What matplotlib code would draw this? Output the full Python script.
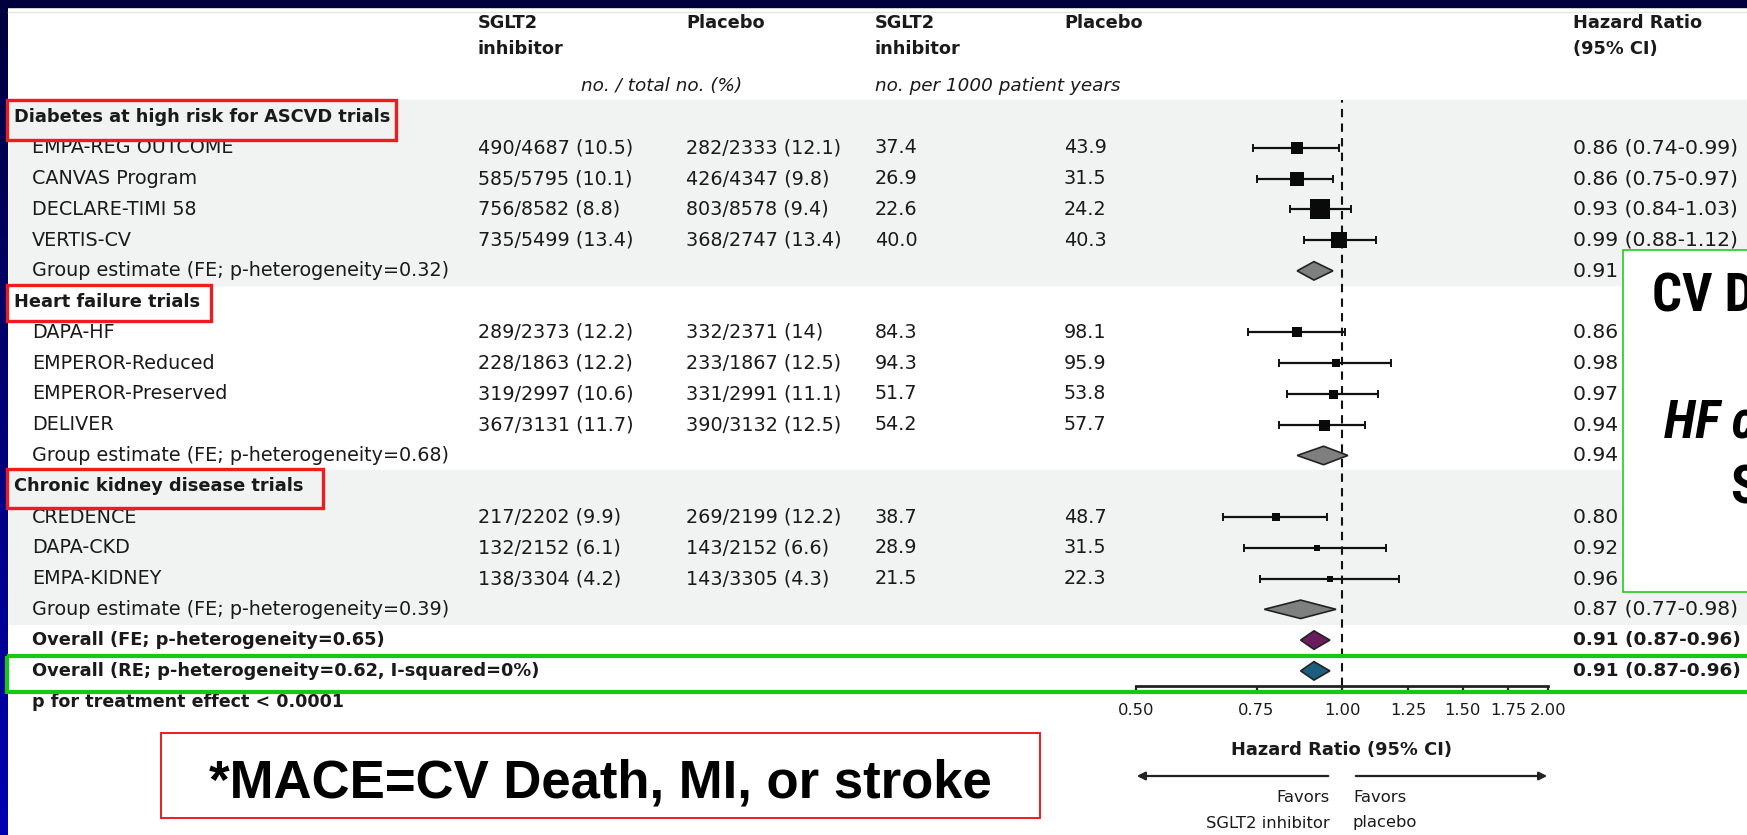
import numpy as np
import matplotlib
matplotlib.use('Agg')
import matplotlib.pyplot as plt
from matplotlib import font_manager
from matplotlib.font_manager import FontProperties
from matplotlib.patches import Rectangle, Polygon
from matplotlib.colors import LinearSegmentedColormap
from matplotlib.ticker import NullLocator

# ---- data ----
group_names = ['Diabetes at high risk for ASCVD trials', 'Heart failure trials',
               'Chronic kidney disease trials']
trial_names = ['EMPA-REG OUTCOME', 'CANVAS Program', 'DECLARE-TIMI 58', 'VERTIS-CV',
               'DAPA-HF', 'EMPEROR-Reduced', 'EMPEROR-Preserved', 'DELIVER',
               'CREDENCE', 'DAPA-CKD', 'EMPA-KIDNEY']
trial_group = [0, 0, 0, 0, 1, 1, 1, 1, 2, 2, 2]
sglt2_counts = ['490/4687 (10.5)', '585/5795 (10.1)', '756/8582 (8.8)', '735/5499 (13.4)',
                '289/2373 (12.2)', '228/1863 (12.2)', '319/2997 (10.6)', '367/3131 (11.7)',
                '217/2202 (9.9)', '132/2152 (6.1)', '138/3304 (4.2)']
placebo_counts = ['282/2333 (12.1)', '426/4347 (9.8)', '803/8578 (9.4)', '368/2747 (13.4)',
                  '332/2371 (14)', '233/1867 (12.5)', '331/2991 (11.1)', '390/3132 (12.5)',
                  '269/2199 (12.2)', '143/2152 (6.6)', '143/3305 (4.3)']
sglt2_rate = [37.4, 26.9, 22.6, 40.0, 84.3, 94.3, 51.7, 54.2, 38.7, 28.9, 21.5]
placebo_rate = [43.9, 31.5, 24.2, 40.3, 98.1, 95.9, 53.8, 57.7, 48.7, 31.5, 22.3]
hr = [0.86, 0.86, 0.93, 0.99, 0.86, 0.98, 0.97, 0.94, 0.80, 0.92, 0.96]
hr_lo = [0.74, 0.75, 0.84, 0.88, 0.73, 0.81, 0.83, 0.81, 0.67, 0.72, 0.76]
hr_hi = [0.99, 0.97, 1.03, 1.12, 1.01, 1.18, 1.13, 1.08, 0.95, 1.16, 1.21]
box_px = [12.5, 14.5, 19.5, 15.5, 10, 8, 9, 11, 8, 6.5, 6]   # square side, px

group_labels = ['Group estimate (FE; p-heterogeneity=0.32)',
                'Group estimate (FE; p-heterogeneity=0.68)',
                'Group estimate (FE; p-heterogeneity=0.39)']
group_hr = [0.91, 0.94, 0.87]
group_lo = [0.86, 0.86, 0.77]
group_hi = [0.97, 1.02, 0.98]

overall_labels = ['Overall (FE; p-heterogeneity=0.65)',
                  'Overall (RE; p-heterogeneity=0.62, I-squared=0%)']
overall_hr = [0.91, 0.91]
overall_lo = [0.87, 0.87]
overall_hi = [0.96, 0.96]
overall_colors = ['#6a1d5c', '#1b5e80']

xticks = [0.50, 0.75, 1.00, 1.25, 1.50, 1.75, 2.00]


# condensed bold face for the slide call-out box, if one is installed
def find_condensed(italic):
    best = None
    for f in font_manager.fontManager.ttflist:
        nm = f.name.lower()
        cond = 'narrow' in nm or 'condensed' in nm or 'condensed' in str(f.stretch)
        bold = f.weight in ('bold', 'heavy') or (isinstance(f.weight, int) and f.weight >= 700)
        ital = f.style in ('italic', 'oblique')
        if cond and bold and ital == italic:
            if best is None or 'liberation' in nm or 'roboto' in nm:
                best = f
    return FontProperties(fname=best.fname) if best else None

cond_bold = find_condensed(False)
cond_boldit = find_condensed(True)

# ---- layout (pixels) ----
W, H = 1747, 835
Y0, DY = 117, 30.77
def ypx(i):
    return Y0 + DY * i

plt.rcParams['font.family'] = ['DejaVu Sans']
fig = plt.figure(figsize=(W / 100, H / 100), dpi=100)
fig.patch.set_facecolor('white')

bg = fig.add_axes([0, 0, 1, 1], zorder=0)
bg.axis('off')
top = fig.add_axes([0, 0, 1, 1], zorder=2)
top.axis('off')
top.patch.set_alpha(0)

# slide frame
cmap = LinearSegmentedColormap.from_list('frame', ['#00003c', '#0000b2'])
bg.imshow(np.linspace(0, 1, 200)[:, None], cmap=cmap, extent=[0, 8, H, 0], aspect='auto')
bg.add_patch(Rectangle((0, 0), W, 7, color='#00003c'))
bg.plot([8, W], [12, 12], color='#e4e6e6', lw=1)
for a in (bg, top):
    a.set_xlim(0, W)
    a.set_ylim(H, 0)

# grey bands behind group 1 and group 3
bg.add_patch(Rectangle((9, 100), W, 185, color='#f1f2f2', zorder=0))
bg.add_patch(Rectangle((9, 470), W, 154, color='#f1f2f2', zorder=0))

FS = 13.8     # regular table text
FSB = 12.8    # bold table text
def T(x, y, s, **kw):
    if kw.get('fontweight') == 'bold':
        kw.setdefault('fontsize', FSB)
    kw.setdefault('fontsize', FS)
    kw.setdefault('va', 'center')
    kw.setdefault('color', '#1a1a1a')
    bg.text(x, y, s, **kw)

HRX = 1573
HRFS = 14.6

# headers
for x in (478, 875):
    T(x, 23, 'SGLT2', fontweight='bold')
    T(x, 49, 'inhibitor', fontweight='bold')
for x in (686, 1064):
    T(x, 23, 'Placebo', fontweight='bold')
T(HRX, 23, 'Hazard Ratio', fontweight='bold')
T(HRX, 49, '(95% CI)', fontweight='bold')
T(662, 86, 'no. / total no. (%)', style='italic', ha='center', fontsize=13.2)
T(875, 86, 'no. per 1000 patient years', style='italic', fontsize=13.2)

# forest axes
fx0, fx1, fy0, fy1 = 1136, 1548, 100, 686
ax = fig.add_axes([fx0 / W, 1 - fy1 / H, (fx1 - fx0) / W, (fy1 - fy0) / H], zorder=1)
ax.patch.set_alpha(0)
ax.set_xscale('log')
ax.set_xlim(0.5, 2.0)
ax.set_ylim((fy1 - Y0) / DY, (fy0 - Y0) / DY)
for s in ('top', 'left', 'right'):
    ax.spines[s].set_visible(False)
ax.spines['bottom'].set_linewidth(2)
ax.spines['bottom'].set_color('#222222')
ax.set_yticks([])
ax.set_xticks(xticks)
ax.set_xticklabels([f'{t:.2f}' for t in xticks])
ax.xaxis.set_minor_locator(NullLocator())
ax.tick_params(axis='x', length=6, width=1.6, color='#222222', labelsize=11.8,
               pad=6, labelcolor='#1a1a1a')
ax.axvline(1.0, color='#111111', lw=1.5, ls=(0, (4, 3)), zorder=1)

def diamond(i, h, lo, hi, fc):
    ax.add_patch(Polygon([(lo, i), (h, i - 0.3), (hi, i), (h, i + 0.3)],
                         closed=True, fc=fc, ec='#222222', lw=1.2, zorder=3))

row = 0
k = 0
for g, gname in enumerate(group_names):
    T(14, ypx(row), gname, fontweight='bold')
    row += 1
    while k < len(trial_names) and trial_group[k] == g:
        y = ypx(row)
        T(32, y, trial_names[k])
        T(478, y, sglt2_counts[k])
        T(686, y, placebo_counts[k])
        T(875, y, f'{sglt2_rate[k]:.1f}')
        T(1064, y, f'{placebo_rate[k]:.1f}')
        T(HRX, y, f'{hr[k]:.2f} ({hr_lo[k]:.2f}-{hr_hi[k]:.2f})', fontsize=HRFS)
        ax.errorbar(hr[k], row, xerr=[[hr[k] - hr_lo[k]], [hr_hi[k] - hr[k]]],
                    fmt='none', ecolor='#111111', elinewidth=1.6, capsize=3, capthick=1.4,
                    zorder=2)
        side = box_px[k] * 0.72
        ax.scatter([hr[k]], [row], marker='s', s=side ** 2, c='#0a0a0a', zorder=3,
                   linewidths=0)
        row += 1
        k += 1
    y = ypx(row)
    T(32, y, group_labels[g])
    T(HRX, y, f'{group_hr[g]:.2f} ({group_lo[g]:.2f}-{group_hi[g]:.2f})', fontsize=HRFS)
    diamond(row, group_hr[g], group_lo[g], group_hi[g], '#7f7f7f')
    row += 1

for j, lab in enumerate(overall_labels):
    y = ypx(row)
    T(32, y, lab, fontweight='bold')
    T(HRX, y, f'{overall_hr[j]:.2f} ({overall_lo[j]:.2f}-{overall_hi[j]:.2f})',
      fontsize=13.3, fontweight='bold')
    diamond(row, overall_hr[j], overall_lo[j], overall_hi[j], overall_colors[j])
    row += 1
T(32, ypx(row), 'p for treatment effect < 0.0001', fontweight='bold', fontsize=12.6)

# axis title and favours arrows
T(1342, 750, 'Hazard Ratio (95% CI)', fontweight='bold', ha='center', fontsize=12.9)
bg.annotate('', xy=(1134, 776), xytext=(1331, 776),
            arrowprops=dict(arrowstyle='-|>', color='#222222', lw=1.6, mutation_scale=12))
bg.annotate('', xy=(1550, 776), xytext=(1353, 776),
            arrowprops=dict(arrowstyle='-|>', color='#222222', lw=1.6, mutation_scale=12))
T(1330, 798, 'Favors', ha='right', fontsize=11.8)
T(1330, 823, 'SGLT2 inhibitor', ha='right', fontsize=11.8)
T(1353, 798, 'Favors', fontsize=11.8)
T(1353, 823, 'placebo', fontsize=11.8)

# overlay highlight boxes
red = '#ee1c1c'
green = '#14c814'
for (x, y, w, h) in [(7, 100, 389, 40), (7, 285, 204, 36), (7, 469, 316, 39)]:
    top.add_patch(Rectangle((x, y), w, h, fill=False, ec=red, lw=2.4))
top.add_patch(Rectangle((7, 656), W, 36, fill=False, ec=green, lw=3))

top.add_patch(Rectangle((161, 733), 879, 85, fc='white', ec=red, lw=1.4))
top.text(600, 797, '*MACE=CV Death, MI, or stroke', ha='center', va='baseline',
         fontsize=38, fontweight='bold', family=['Liberation Sans', 'DejaVu Sans'])


def slide_text(x, y, s, italic=False):
    fp = cond_boldit if italic else cond_bold
    if fp is not None:
        fp = fp.copy()
        fp.set_size(38)
        top.text(x, y, s, fontproperties=fp, va='baseline')
    else:
        top.text(x, y, s, fontsize=34, fontweight='bold', va='baseline',
                 style='italic' if italic else 'normal', family=['Liberation Sans'])

top.add_patch(Rectangle((1623, 250), 200, 342, fc='white', ec='#22cc22', lw=1.2))
slide_text(1652, 312, 'CV D')
slide_text(1664, 438, 'HF c', italic=True)
slide_text(1730, 503, 'S')

fig.savefig('out.png', dpi=100)
